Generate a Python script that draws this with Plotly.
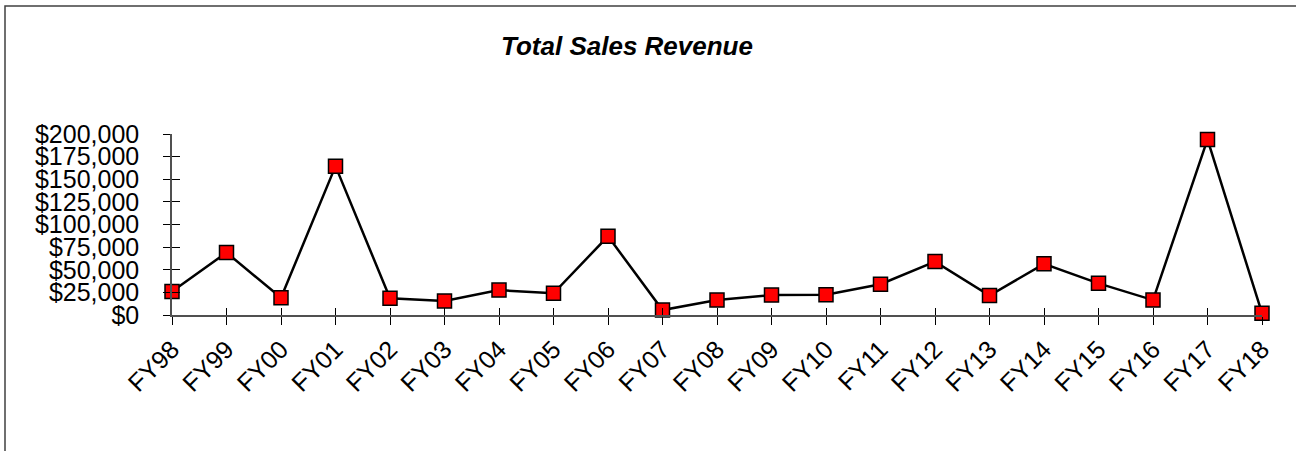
import plotly.graph_objects as go

categories = ["FY98", "FY99", "FY00", "FY01", "FY02", "FY03", "FY04", "FY05", "FY06", "FY07",
              "FY08", "FY09", "FY10", "FY11", "FY12", "FY13", "FY14", "FY15", "FY16", "FY17", "FY18"]
revenue = [26000, 69000, 19000, 164500, 18500, 15500, 27500, 24000, 87000, 5500,
           16500, 22000, 22500, 34000, 59000, 21500, 56500, 35000, 16500, 194000, 2000]
y_ticks = [0, 25000, 50000, 75000, 100000, 125000, 150000, 175000, 200000]
y_tick_labels = ["$0", "$25,000", "$50,000", "$75,000", "$100,000", "$125,000", "$150,000", "$175,000", "$200,000"]

FONT = "Liberation Sans, Arial, sans-serif"

fig = go.Figure()
fig.add_trace(go.Scatter(
    x=categories, y=revenue, mode="lines+markers",
    line=dict(color="black", width=2.5),
    marker=dict(symbol="square", size=14, color="#ff0000", line=dict(color="black", width=1.5)),
    cliponaxis=False, showlegend=False, hoverinfo="x+y",
))
# invisible trace for the overlay axes (inside half of crossing ticks)
fig.add_trace(go.Scatter(x=categories, y=revenue, mode="markers", xaxis="x2", yaxis="y2",
                         marker=dict(opacity=0), showlegend=False, hoverinfo="skip"))

n = len(categories) - 1
fig.update_layout(
    width=1296, height=451,
    paper_bgcolor="white", plot_bgcolor="white",
    margin=dict(l=172, r=34, t=134, b=136),
    title=dict(text="<b><i>Total Sales Revenue</i></b>", x=627 / 1296, xref="container",
               xanchor="center", y=1 - 46 / 451, yanchor="middle",
               font=dict(family=FONT, size=26, color="black")),
    xaxis=dict(type="category", range=[0, n], showgrid=False, zeroline=False,
               showline=True, linecolor="#505050", linewidth=1.5,
               ticks="outside", ticklen=8, tickcolor="black", tickwidth=1,
               tickangle=-45, tickfont=dict(family=FONT, size=25, color="black"),
               categoryorder="array", categoryarray=categories),
    yaxis=dict(range=[0, 200000], showgrid=False, zeroline=False,
               showline=True, linecolor="#505050", linewidth=1.5,
               ticks="outside", ticklen=7, tickcolor="black", tickwidth=1,
               tickmode="array", tickvals=y_ticks, ticktext=y_tick_labels,
               tickfont=dict(family=FONT, size=25, color="black"),
               ticklabelstandoff=19),
    xaxis2=dict(type="category", overlaying="x", side="bottom", range=[0, n],
                categoryorder="array", categoryarray=categories,
                showgrid=False, zeroline=False, showline=False, showticklabels=False,
                ticks="inside", ticklen=7, tickcolor="black", tickwidth=1),
    yaxis2=dict(overlaying="y", side="left", range=[0, 200000], showgrid=False,
                zeroline=False, showline=False, showticklabels=False,
                tickmode="array", tickvals=y_ticks,
                ticks="inside", ticklen=8, tickcolor="black", tickwidth=1),
    shapes=[dict(type="rect", xref="paper", yref="paper",
                 x0=(5 - 172) / 1090, x1=(1310 - 172) / 1090,
                 y0=(315 - 470) / 181, y1=(315 - 6) / 181,
                 line=dict(color="#404040", width=1.5), fillcolor="rgba(0,0,0,0)", layer="below")],
)

fig.write_html("out.html", config={"displayModeBar": False},
               post_script="document.body.style.margin='0';document.body.style.overflow='hidden';")
